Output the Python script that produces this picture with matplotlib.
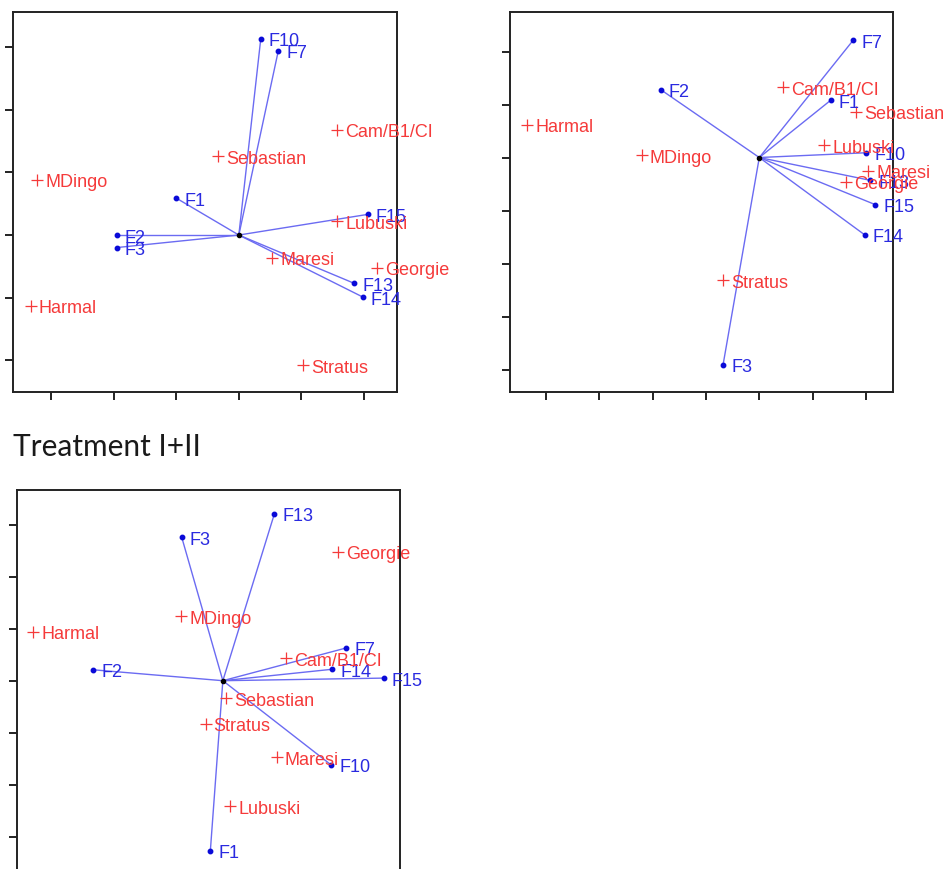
import matplotlib
matplotlib.use("Agg")
import matplotlib.pyplot as plt

# ---- Panel 1 ----
p1_traits = ["F10", "F7", "F1", "F2", "F3", "F15", "F13", "F14"]
p1_trait_x = [0.35, 0.63, -1.00, -1.95, -1.95, 2.06, 1.84, 1.98]
p1_trait_y = [3.13, 2.94, 0.59, 0.00, -0.20, 0.33, -0.77, -0.99]
p1_cultivars = ["Cam/B1/CI", "Sebastian", "MDingo", "Lubuski", "Maresi",
                "Georgie", "Harmal", "Stratus"]
p1_cult_x = [1.57, -0.33, -3.22, 1.57, 0.53, 2.21, -3.32, 1.03]
p1_cult_y = [1.68, 1.26, 0.88, 0.22, -0.36, -0.52, -1.13, -2.08]

# ---- Panel 2 ----
p2_traits = ["F7", "F2", "F1", "F10", "F13", "F15", "F14", "F3"]
p2_trait_x = [1.76, -1.85, 1.34, 2.01, 2.08, 2.18, 1.98, -0.68]
p2_trait_y = [2.21, 1.28, 1.08, 0.09, -0.43, -0.89, -1.46, -3.91]
p2_cultivars = ["Cam/B1/CI", "Sebastian", "Harmal", "MDingo", "Lubuski",
                "Maresi", "Georgie", "Stratus"]
p2_cult_x = [0.45, 1.81, -4.36, -2.21, 1.22, 2.05, 1.63, -0.68]
p2_cult_y = [1.33, 0.86, 0.62, 0.04, 0.23, -0.25, -0.46, -2.32]

# ---- Panel 3: Treatment I+II ----
p3_title = "Treatment I+II"
p3_traits = ["F13", "F3", "F2", "F7", "F14", "F15", "F10", "F1"]
p3_trait_x = [0.99, -0.79, -2.49, 2.37, 2.10, 3.09, 2.08, -0.24]
p3_trait_y = [3.21, 2.76, 0.21, 0.63, 0.22, 0.05, -1.62, -3.27]
p3_cultivars = ["Georgie", "MDingo", "Harmal", "Cam/B1/CI", "Sebastian",
                "Stratus", "Maresi", "Lubuski"]
p3_cult_x = [2.22, -0.80, -3.64, 1.21, 0.06, -0.33, 1.04, 0.14]
p3_cult_y = [2.48, 1.24, 0.94, 0.43, -0.34, -0.83, -1.47, -2.42]

W, H = 946, 870
LINE_BLUE = "#6b6bf2"
DOT_BLUE = "#0a0ad8"
TEXT_BLUE = "#2a2ae0"
RED = "#f53a3a"
FONT = "Liberation Sans"
FS = 13


def px_axes(fig, left, top, width, height):
    """Create axes from pixel geometry measured from the top-left corner."""
    return fig.add_axes([left / W, (H - top - height) / H, width / W, height / H])


def biplot(ax, tx, ty, tnames, cx, cy, cnames, xlim, ylim, xticks, yticks):
    for x, y, name in zip(tx, ty, tnames):
        ax.plot([0, x], [0, y], color=LINE_BLUE, lw=1.0, zorder=2)
        ax.plot([x], [y], "o", color=DOT_BLUE, ms=3.2, zorder=3)
        ax.annotate(name, (x, y), xytext=(8, 0), textcoords="offset pixels",
                    ha="left", va="center_baseline", color=TEXT_BLUE,
                    fontsize=FS, family=FONT, annotation_clip=False, zorder=4)
    ax.plot([0], [0], "o", color="black", ms=3.0, zorder=5)
    for x, y, name in zip(cx, cy, cnames):
        ax.plot([x], [y], "+", color=RED, ms=9, mew=0.9, zorder=3)
        ax.annotate(name, (x, y), xytext=(8, 0), textcoords="offset pixels",
                    ha="left", va="center_baseline", color=RED,
                    fontsize=FS, family=FONT, annotation_clip=False, zorder=4)
    ax.set_xlim(*xlim)
    ax.set_ylim(*ylim)
    ax.set_xticks(xticks)
    ax.set_yticks(yticks)
    ax.set_xticklabels([])
    ax.set_yticklabels([])
    ax.tick_params(direction="out", length=5.5, width=1.4, color="#222222",
                   top=False, right=False)
    for sp in ax.spines.values():
        sp.set_linewidth(1.4)
        sp.set_color("#222222")


fig = plt.figure(figsize=(W / 100, H / 100), dpi=100)

ax1 = px_axes(fig, 13.3, 13.0, 383.4, 380.3)
biplot(ax1, p1_trait_x, p1_trait_y, p1_traits, p1_cult_x, p1_cult_y, p1_cultivars,
       (-3.60, 2.52), (-2.51, 3.56), range(-3, 3), range(-2, 4))

ax2 = px_axes(fig, 510.0, 13.3, 383.0, 380.0)
biplot(ax2, p2_trait_x, p2_trait_y, p2_traits, p2_cult_x, p2_cult_y, p2_cultivars,
       (-4.68, 2.51), (-4.43, 2.74), range(-4, 3), range(-4, 3))

ax3 = px_axes(fig, 17.3, 491.0, 383.0, 384.0)
biplot(ax3, p3_trait_x, p3_trait_y, p3_traits, p3_cult_x, p3_cult_y, p3_cultivars,
       (-3.95, 3.41), (-3.72, 3.67), range(-3, 4), range(-3, 4))

fig.text(13 / W, (H - 456) / H, p3_title, ha="left", va="baseline",
         fontsize=21.5, family="Lato", color="#1a1a1a")

fig.savefig("out.png", dpi=100)
